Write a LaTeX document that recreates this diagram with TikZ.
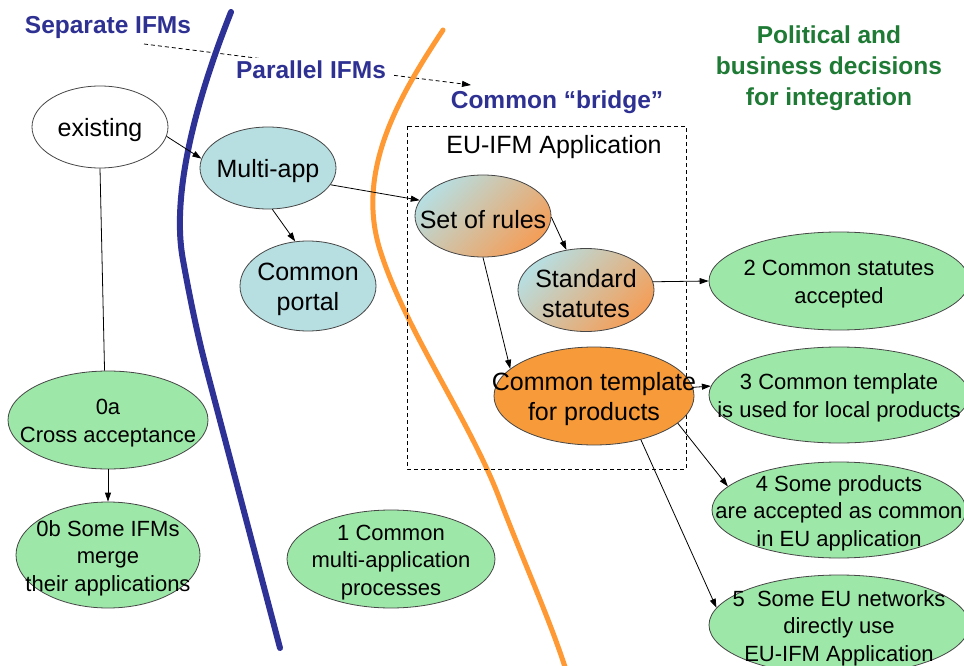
\documentclass[tikz,border=0pt]{standalone}
\usepackage{fontspec}
\setmainfont{Liberation Sans}
\usetikzlibrary{shapes.geometric,arrows.meta}
\definecolor{ttlblue}{RGB}{46,49,146}
\definecolor{lineblue}{RGB}{46,49,150}
\definecolor{orng}{RGB}{255,153,51}
\definecolor{tplorange}{RGB}{247,154,58}
\definecolor{ltblue}{RGB}{183,222,225}
\definecolor{gradorange}{RGB}{244,158,88}
\definecolor{grn}{RGB}{157,232,168}
\definecolor{dkgreen}{RGB}{30,122,52}
\definecolor{edgegray}{RGB}{70,70,70}
\newcommand\bigstrut{\rule{0pt}{24.5pt}}
\newcommand\smlstrut{\rule{0pt}{22pt}}
\begin{document}
\begin{tikzpicture}[x=1pt,y=-1pt,
  ell/.style={ellipse, draw=edgegray, line width=0.8pt, inner sep=-45pt, align=center},
  sz/.style 2 args={minimum width=#1, minimum height=#2},
  bigtxt/.style={font=\fontsize{25}{30}\selectfont},
  smalltxt/.style={font=\fontsize{22}{27.5}\selectfont},
  ttl/.style={font=\bfseries\fontsize{24.5}{31}\selectfont, align=center},
  grad/.style={top color=ltblue, bottom color=gradorange, shading angle=45},
  conn/.style={draw=black, line width=0.8pt, -{Triangle[length=9pt,width=6pt]}},
  plain/.style={draw=black, line width=0.8pt},
  sepline/.style={line width=#1, line cap=round},
]
\useasboundingbox (0,0) rectangle (964,666);
\clip (0,0) rectangle (964,666);
\fill[white] (0,0) rectangle (964,666);

% dashed arrow between titles
\coordinate (dA) at (144,44);
\coordinate (dB) at (471,85);
\draw[line width=0.8pt, dash pattern=on 4pt off 3pt, -{Triangle[length=9pt,width=6pt]}] (dA) -- (dB);

% dividing curves
\draw[sepline=6pt, draw=lineblue] (231,12) .. controls (200,90) and (170,190) .. (183,260)
   .. controls (192,310) and (200,345) .. (208,375) -- (280,648);
\draw[sepline=5pt, draw=orng] (443,30) .. controls (400,95) and (355,170) .. (380,250)
   .. controls (405,330) and (470,420) .. (500,500) .. controls (525,565) and (550,620) .. (566,670);

% dashed application box
\draw[line width=0.8pt, dash pattern=on 4pt off 3pt] (407,126) rectangle (686,469);

% titles
\node[ttl, text=ttlblue] (sep) at (108,27) {Separate IFMs};
\node[ttl, text=ttlblue, fill=white, inner xsep=8pt, inner ysep=3pt] (par) at (311,70) {Parallel IFMs};
\node[ttl, text=ttlblue] (bridge) at (557,102) {Common “bridge”};
\node[ttl, text=dkgreen] (pol) at (829,68) {Political and\\business decisions\\for integration};
\node[bigtxt] (euapp) at (554,147) {EU-IFM Application};

% ellipses
\node[ell, bigtxt, fill=white, sz={136pt}{82pt}] (exist) at (100,127) {\bigstrut existing};
\node[ell, bigtxt, fill=ltblue, sz={136pt}{82pt}] (multi) at (268,168) {\bigstrut Multi-app};
\node[ell, bigtxt, fill=ltblue, sz={136pt}{90pt}] (portal) at (308,286) {\bigstrut Common\\portal};
\node[ell, bigtxt, grad, sz={136pt}{82pt}] (rules) at (483,216) {\bigstrut Set of rules};
\node[ell, bigtxt, grad, sz={136pt}{83pt}] (std) at (586,290) {\bigstrut Standard\\statutes};
\node[ell, bigtxt, fill=tplorange, sz={200pt}{98pt}] (tpl) at (594,396) {\bigstrut Common template\\for products};

\node[ell, smalltxt, fill=grn, sz={260pt}{98pt}] (g2) at (839,281) {\smlstrut 2 Common statutes\\accepted};
\node[ell, smalltxt, fill=grn, sz={260pt}{96pt}] (g3) at (839,395) {\smlstrut 3 Common template\\is used for local products};
\node[ell, smalltxt, fill=grn, sz={254pt}{96pt}] (g4) at (839,510) {\smlstrut 4 Some products\\are accepted as common\\in EU application};
\node[ell, smalltxt, fill=grn, sz={260pt}{100pt}] (g5) at (839,625) {\smlstrut 5\ \ Some EU networks\\directly use\\EU-IFM Application};

\node[ell, smalltxt, fill=grn, sz={200pt}{98pt}] (oa) at (108,420) {\smlstrut 0a\\Cross acceptance};
\node[ell, smalltxt, fill=grn, sz={184pt}{106pt}] (ob) at (108,555) {\smlstrut 0b Some IFMs\\merge\\their applications};
\node[ell, smalltxt, fill=grn, sz={208pt}{98pt}] (one) at (391,559) {\smlstrut 1 Common\\multi-application\\processes};

% connectors
\draw[conn] (exist.-8) -- (multi.172);
\draw[plain] (exist.south) -- (oa.94);
\draw[conn] (oa.south) -- (ob.north);
\draw[conn] (multi.-84) -- (portal.106);
\draw[conn] (multi.-15) -- (rules.166);
\draw[conn] (rules.-1) -- (std.116);
\draw[conn] (rules.-90) -- (tpl.162);
\draw[conn] (std.7) -- (g2.west);
\draw[conn] (tpl.5) -- (g3.176);
\draw[conn] (tpl.-18) -- (g4.168);
\draw[conn] (tpl.-43) -- (g5.172);
\end{tikzpicture}
\end{document}
